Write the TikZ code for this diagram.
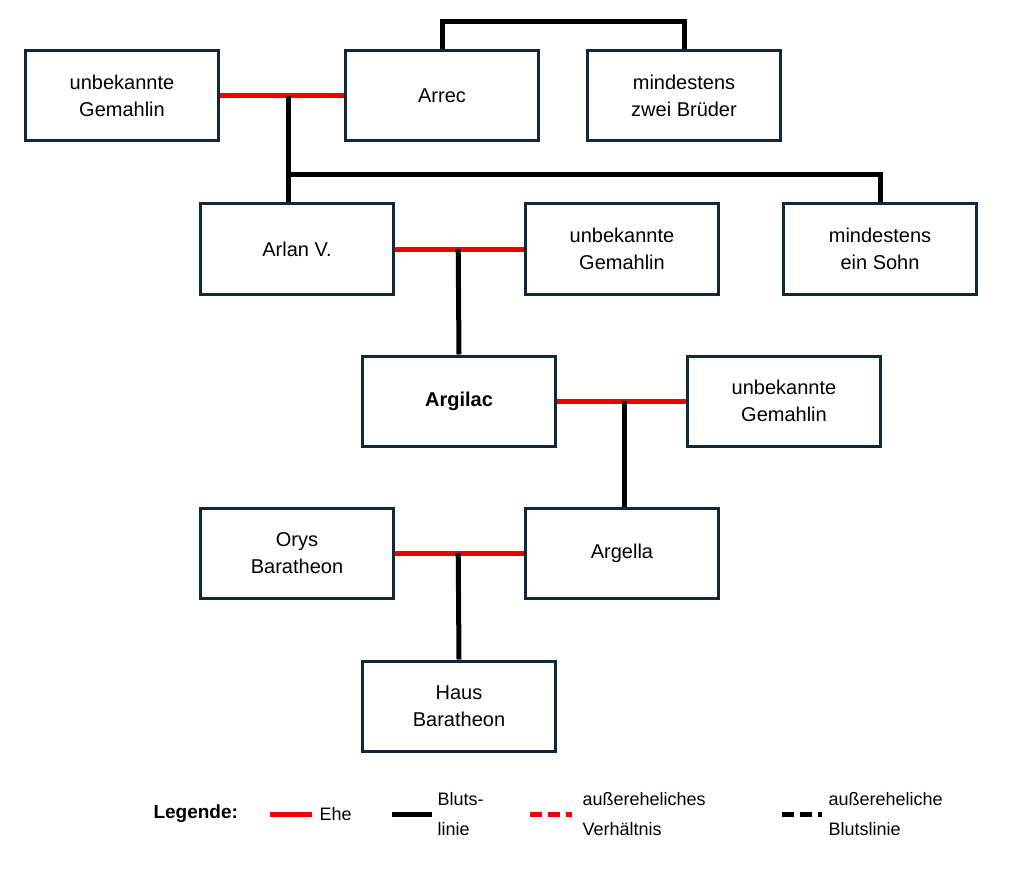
\documentclass[tikz,border=0pt]{standalone}
\usepackage{fontspec}
\setmainfont{Liberation Sans}
\usetikzlibrary{positioning}
\definecolor{boxline}{HTML}{10293A}
\definecolor{ehered}{HTML}{F00000}
\tikzset{
  person/.style={draw=boxline, line width=3pt, minimum width=193pt, minimum height=90pt,
    align=center, font=\fontsize{20}{27}\selectfont},
  ehe/.style={draw=ehered, line width=5pt},
  blut/.style={draw=black, line width=5pt},
  legtext/.style={font=\fontsize{18}{30}\selectfont, align=left, anchor=west}
}
\begin{document}
\begin{tikzpicture}[x=1pt,y=-1pt]
  \useasboundingbox (0,0) rectangle (1009,869);
  % persons
  \node[person] (gem1) at (122,96) {unbekannte\\Gemahlin};
  \node[person] (arrec) at (442,96) {Arrec};
  \node[person] (brueder) at (684,96) {mindestens\\zwei Brüder};
  \node[person] (arlan) at (297,249) {Arlan V.};
  \node[person] (gem2) at (622,249) {unbekannte\\Gemahlin};
  \node[person] (sohn) at (880,249) {mindestens\\ein Sohn};
  \node[person, font=\fontsize{20}{27}\selectfont\bfseries] (argilac) at (459,401) {Argilac};
  \node[person] (gem3) at (784,401) {unbekannte\\Gemahlin};
  \node[person] (orys) at (297,553) {Orys\\Baratheon};
  \node[person] (argella) at (622,553) {Argella};
  \node[person] (haus) at (459,706) {Haus\\Baratheon};

  % siblings of Arrec
  \draw[blut] (arrec.north) -- ++(0,-28) -| (brueder.north);
  % marriages
  \draw[ehe] (gem1.east) -- coordinate[pos=.55] (m1) (arrec.west);
  \draw[ehe] (arlan.east) -- coordinate[pos=.49] (m2) (gem2.west);
  \draw[ehe] (argilac.east) -- coordinate[pos=.52] (m3) (gem3.west);
  \draw[ehe] (orys.east) -- coordinate[pos=.49] (m4) (argella.west);
  % children
  \draw[blut] (m1) -- (m1 |- arlan.north);
  \draw[blut] (m1) ++(0,79) -| (sohn.north);
  \draw[blut] (m2) -- (argilac.north);
  \draw[blut] (m3) -- (m3 |- argella.north);
  \draw[blut] (m4) -- (haus.north);

  % legend
  \node[legtext, font=\fontsize{19}{24}\selectfont\bfseries] (leg) at (150,814) {Legende:};
  \draw[ehe] (270,814) coordinate (l1a) -- (312,814) coordinate (l1b);
  \node[legtext] (lehe) at (316,814) {Ehe};
  \draw[blut] (392,814) coordinate (l2a) -- (432,814) coordinate (l2b);
  \node[legtext] (lblut) at (434,814) {Bluts-\\linie};
  \draw[ehe, dash pattern=on 12pt off 6pt] (530,814) coordinate (l3a) -- (572,814) coordinate (l3b);
  \node[legtext] (laus) at (579,814) {außereheliches\\Verhältnis};
  \draw[blut, dash pattern=on 12pt off 6pt] (782,814) coordinate (l4a) -- (822,814) coordinate (l4b);
  \node[legtext] (lausb) at (825,814) {außereheliche\\Blutslinie};
\end{tikzpicture}
\end{document}
